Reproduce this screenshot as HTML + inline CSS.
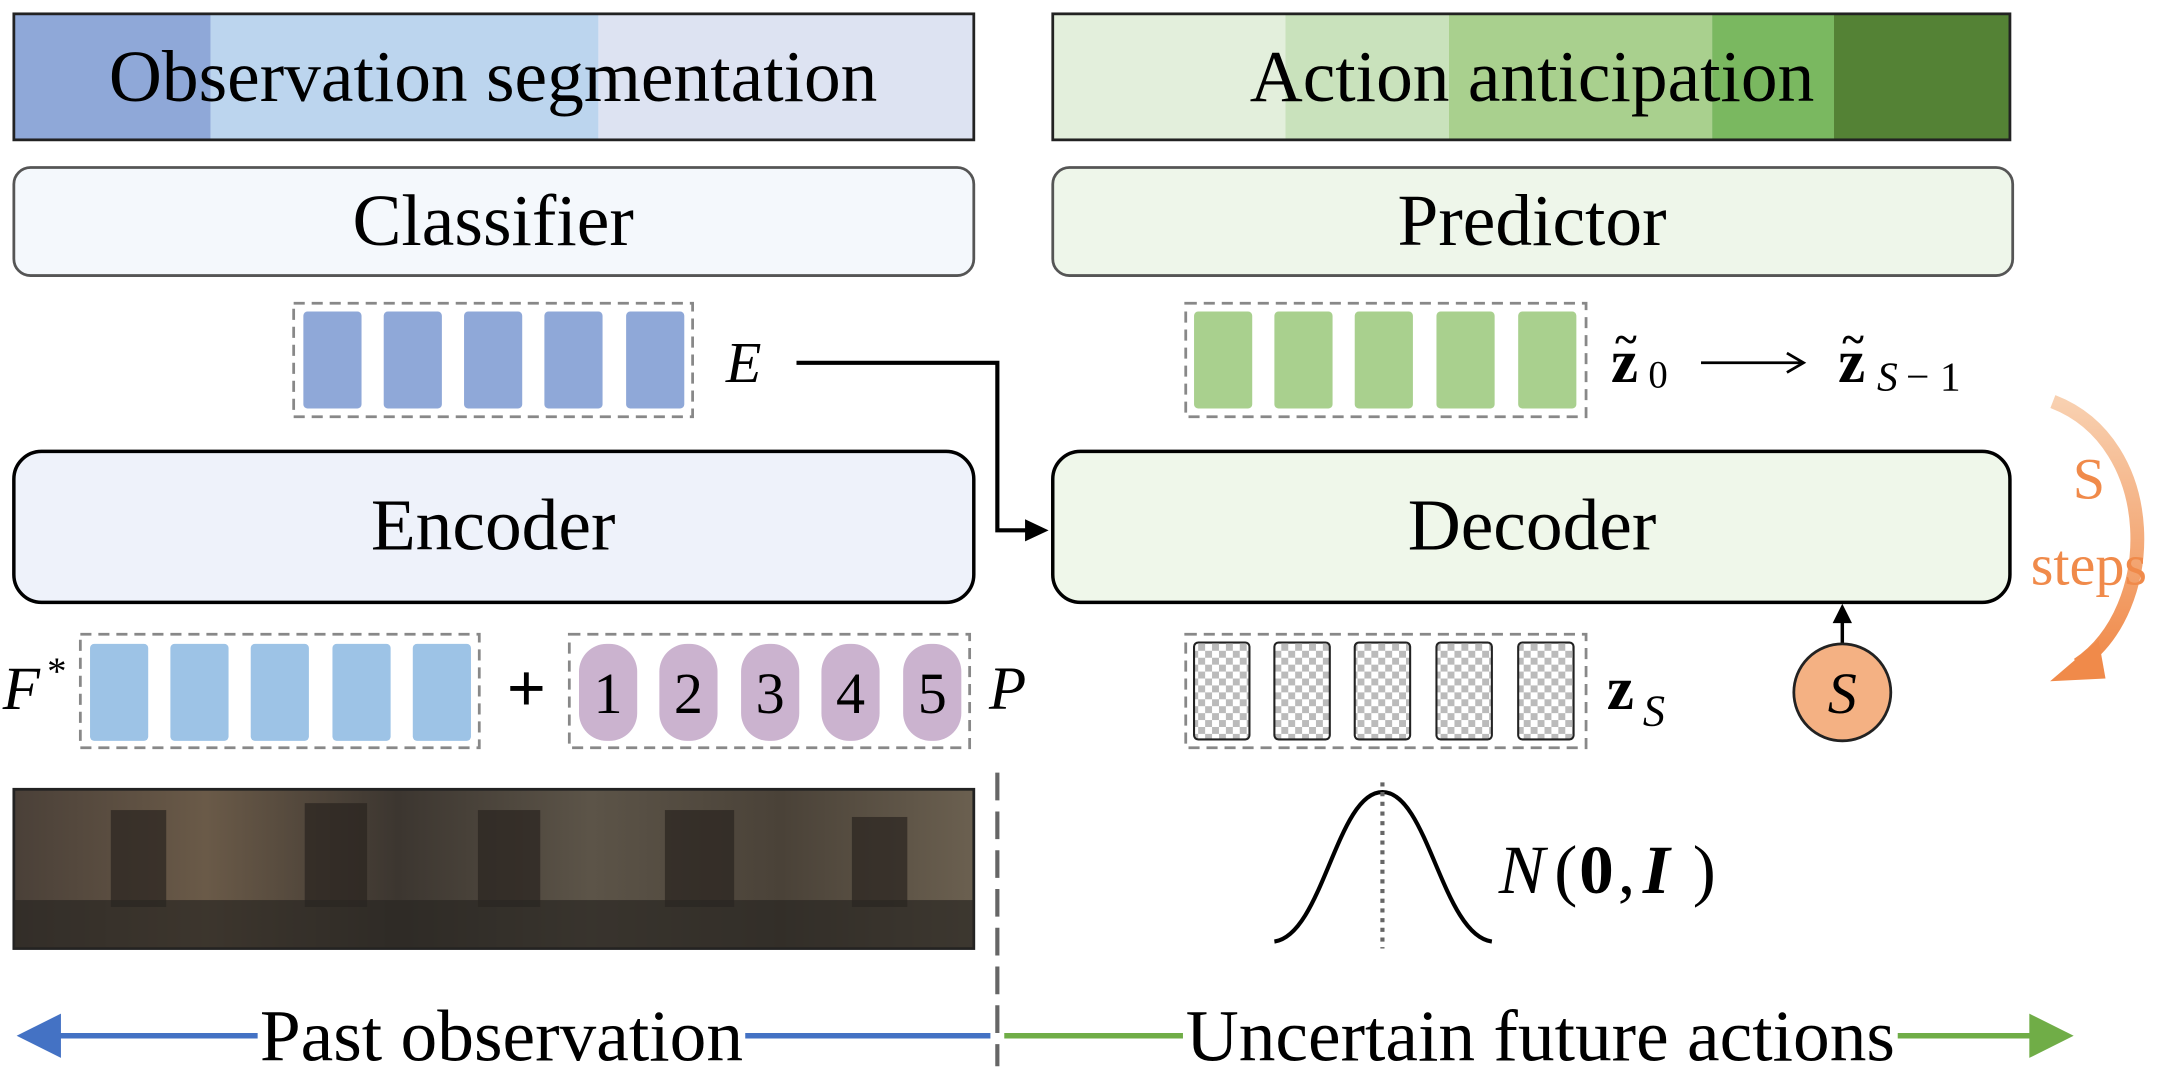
<!DOCTYPE html>
<html><head><meta charset="utf-8"><style>
html,body{margin:0;padding:0;background:#fff;width:2172px;height:1087px;overflow:hidden}
svg{display:block}
text{font-family:"Liberation Serif",serif;fill:#000}
</style></head><body>
<svg width="2172" height="1087" viewBox="0 0 1568 785" preserveAspectRatio="none" xmlns="http://www.w3.org/2000/svg">
<defs>
<pattern id="chk" width="10" height="10" patternUnits="userSpaceOnUse">
<rect width="10" height="10" fill="#fff"/><rect width="5" height="5" fill="#bbb"/><rect x="5" y="5" width="5" height="5" fill="#bbb"/>
</pattern>
<linearGradient id="vid" x1="0" x2="1">
<stop offset="0" stop-color="#4a4038"/><stop offset="0.2" stop-color="#6a5a48"/><stop offset="0.4" stop-color="#3c3630"/><stop offset="0.6" stop-color="#5c5448"/><stop offset="0.8" stop-color="#4a4238"/><stop offset="1" stop-color="#6b6050"/>
</linearGradient>
<linearGradient id="orng" x1="0" y1="0" x2="0" y2="1"><stop offset="0" stop-color="#f8d0b0"/><stop offset="1" stop-color="#f08a4a"/></linearGradient>
</defs>
<rect x="10" y="10" width="142" height="91" fill="#8fa8d8"/>
<rect x="152" y="10" width="280" height="91" fill="#bcd5ee"/>
<rect x="432" y="10" width="271" height="91" fill="#dde3f2"/>
<rect x="10" y="10" width="693" height="91" fill="none" stroke="#222" stroke-width="2"/>
<text x="356" y="73" font-size="53" text-anchor="middle">Observation segmentation</text>
<rect x="760" y="10" width="168" height="91" fill="#e3efdc"/>
<rect x="928" y="10" width="118" height="91" fill="#c9e2bc"/>
<rect x="1046" y="10" width="190" height="91" fill="#a9d08e"/>
<rect x="1236" y="10" width="88" height="91" fill="#7ab860"/>
<rect x="1324" y="10" width="127" height="91" fill="#548235"/>
<rect x="760" y="10" width="691" height="91" fill="none" stroke="#222" stroke-width="2"/>
<text x="1106" y="73" font-size="53" text-anchor="middle">Action anticipation</text>
<rect x="10" y="121" width="693" height="78" rx="12" fill="#f4f8fc" stroke="#555" stroke-width="2"/>
<text x="356" y="177" font-size="53" text-anchor="middle">Classifier</text>
<rect x="760" y="121" width="693" height="78" rx="12" fill="#eef6ea" stroke="#555" stroke-width="2"/>
<text x="1106" y="177" font-size="53" text-anchor="middle">Predictor</text>
<rect x="212" y="219" width="288" height="82" fill="none" stroke="#888" stroke-width="2" stroke-dasharray="8,5"/>
<g fill="#8fa8d8">
<rect x="219" y="225" width="42" height="70" rx="3"/><rect x="277" y="225" width="42" height="70" rx="3"/><rect x="335" y="225" width="42" height="70" rx="3"/><rect x="393" y="225" width="42" height="70" rx="3"/><rect x="452" y="225" width="42" height="70" rx="3"/>
</g>
<text x="524" y="276" font-size="42" font-style="italic">E</text>
<path d="M575 262 H720 V383 H742" fill="none" stroke="#000" stroke-width="3"/>
<polygon points="757,383 740,375 740,391" fill="#000"/>
<rect x="856" y="219" width="289" height="82" fill="none" stroke="#888" stroke-width="2" stroke-dasharray="8,5"/>
<g fill="#a9d08e">
<rect x="862" y="225" width="42" height="70" rx="3"/><rect x="920" y="225" width="42" height="70" rx="3"/><rect x="978" y="225" width="42" height="70" rx="3"/><rect x="1037" y="225" width="42" height="70" rx="3"/><rect x="1096" y="225" width="42" height="70" rx="3"/>
</g>
<text x="1163" y="276" font-size="44" font-weight="bold">z</text>
<text x="1166" y="255" font-size="30" font-weight="bold">~</text>
<text x="1190" y="280" font-size="28">0</text>
<line x1="1228" y1="262" x2="1300" y2="262" stroke="#000" stroke-width="2"/>
<path d="M1290 255 L1302 262 L1290 269" fill="none" stroke="#000" stroke-width="2"/>
<text x="1327" y="276" font-size="44" font-weight="bold">z</text>
<text x="1330" y="255" font-size="30" font-weight="bold">~</text>
<text x="1355" y="282" font-size="30" font-style="italic">S</text>
<text x="1376" y="282" font-size="30">− 1</text>
<rect x="10" y="326" width="693" height="109" rx="20" fill="#eef2fa" stroke="#000" stroke-width="2.5"/>
<text x="356" y="397" font-size="53" text-anchor="middle">Encoder</text>
<rect x="760" y="326" width="691" height="109" rx="20" fill="#eff7ea" stroke="#000" stroke-width="2.5"/>
<text x="1106" y="397" font-size="53" text-anchor="middle">Decoder</text>
<path d="M1482 290 C1560 320 1560 440 1500 480" fill="none" stroke="url(#orng)" stroke-width="10"/>
<polygon points="1480,492 1515,462 1520,490" fill="#f08a4a"/>
<text x="1508" y="360" font-size="42" style="fill:#f08a4a" text-anchor="middle">S</text>
<text x="1508" y="422" font-size="42" style="fill:#f08a4a" text-anchor="middle">steps</text>
<text x="2" y="512" font-size="44" font-style="italic">F</text>
<text x="34" y="494" font-size="28">*</text>
<rect x="58" y="458" width="288" height="82" fill="none" stroke="#888" stroke-width="2" stroke-dasharray="8,5"/>
<g fill="#9dc3e6">
<rect x="65" y="465" width="42" height="70" rx="3"/><rect x="123" y="465" width="42" height="70" rx="3"/><rect x="181" y="465" width="42" height="70" rx="3"/><rect x="240" y="465" width="42" height="70" rx="3"/><rect x="298" y="465" width="42" height="70" rx="3"/>
</g>
<text x="380" y="514" font-size="50" font-weight="bold" text-anchor="middle">+</text>
<rect x="411" y="458" width="289" height="82" fill="none" stroke="#888" stroke-width="2" stroke-dasharray="8,5"/>
<g fill="#cbb3cf">
<rect x="418" y="465" width="42" height="70" rx="20"/><rect x="476" y="465" width="42" height="70" rx="20"/><rect x="535" y="465" width="42" height="70" rx="20"/><rect x="593" y="465" width="42" height="70" rx="20"/><rect x="652" y="465" width="42" height="70" rx="20"/>
</g>
<g font-size="42" text-anchor="middle">
<text x="439" y="515">1</text><text x="497" y="515">2</text><text x="556" y="515">3</text><text x="614" y="515">4</text><text x="673" y="515">5</text>
</g>
<text x="714" y="512" font-size="44" font-style="italic">P</text>
<rect x="856" y="458" width="289" height="82" fill="none" stroke="#888" stroke-width="2" stroke-dasharray="8,5"/>
<g fill="url(#chk)" stroke="#222" stroke-width="1.5">
<rect x="862" y="464" width="40" height="70" rx="3"/><rect x="920" y="464" width="40" height="70" rx="3"/><rect x="978" y="464" width="40" height="70" rx="3"/><rect x="1037" y="464" width="40" height="70" rx="3"/><rect x="1096" y="464" width="40" height="70" rx="3"/>
</g>
<text x="1160" y="512" font-size="44" font-weight="bold">z</text>
<text x="1186" y="524" font-size="32" font-style="italic">S</text>
<line x1="1330" y1="465" x2="1330" y2="448" stroke="#000" stroke-width="2.5"/>
<polygon points="1330,436 1323,450 1337,450" fill="#000"/>
<circle cx="1330" cy="500" r="35" fill="#f4b183" stroke="#222" stroke-width="2"/>
<text x="1330" y="515" font-size="42" font-style="italic" text-anchor="middle">S</text>
<rect x="10" y="570" width="693" height="115" fill="url(#vid)" stroke="#222" stroke-width="2"/>
<g fill="#2a2420" opacity="0.7">
<rect x="80" y="585" width="40" height="70"/><rect x="220" y="580" width="45" height="75"/><rect x="345" y="585" width="45" height="70"/><rect x="480" y="585" width="50" height="70"/><rect x="615" y="590" width="40" height="65"/>
</g>
<rect x="10" y="650" width="693" height="35" fill="#2a2622" opacity="0.7"/>
<line x1="720" y1="558" x2="720" y2="770" stroke="#666" stroke-width="3" stroke-dasharray="20,8"/>
<path d="M920 680 C955 675 965 572 998 572 C1031 572 1041 675 1077 680" fill="none" stroke="#000" stroke-width="3"/>
<line x1="998" y1="565" x2="998" y2="685" stroke="#666" stroke-width="3" stroke-dasharray="3,4"/>
<text x="1082" y="645" font-size="50" font-style="italic">N</text>
<text x="1122" y="645" font-size="50">(</text>
<text x="1140" y="645" font-size="50" font-weight="bold">0</text>
<text x="1168" y="645" font-size="50">,</text>
<text x="1186" y="645" font-size="50" font-weight="bold" font-style="italic">I</text>
<text x="1222" y="645" font-size="50">)</text>
<line x1="40" y1="748" x2="715" y2="748" stroke="#4472c4" stroke-width="4"/>
<polygon points="12,748 44,732 44,764" fill="#4472c4"/>
<rect x="186" y="723" width="352" height="50" fill="#fff"/>
<text x="362" y="766" font-size="53" text-anchor="middle">Past observation</text>
<line x1="725" y1="748" x2="1470" y2="748" stroke="#70ad47" stroke-width="4"/>
<polygon points="1497,748 1465,732 1465,764" fill="#70ad47"/>
<rect x="854" y="723" width="516" height="50" fill="#fff"/>
<text x="1112" y="766" font-size="53" text-anchor="middle">Uncertain future actions</text>
</svg>
</body></html>
